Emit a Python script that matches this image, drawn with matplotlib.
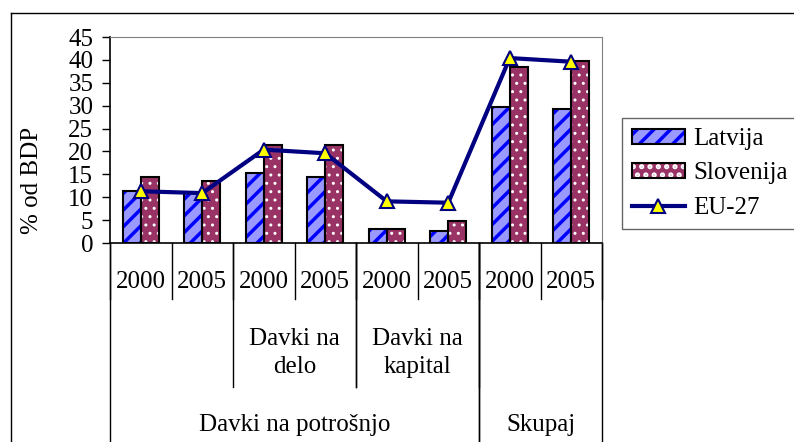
import matplotlib
matplotlib.use("Agg")
import matplotlib.pyplot as plt
from matplotlib.patches import Patch
from matplotlib.lines import Line2D
import numpy as np

plt.rcParams["font.family"] = "Liberation Serif"
plt.rcParams["hatch.linewidth"] = 2.5

years = ["2000", "2005", "2000", "2005", "2000", "2005", "2000", "2005"]
mid_groups = [("", 0, 1), ("Davki na\ndelo", 2, 3), ("Davki na\nkapital", 4, 5), ("", 6, 7)]
top_groups = [("Davki na potrošnjo", 0, 5), ("Skupaj", 6, 7)]

latvija = [11.4, 10.9, 15.4, 14.5, 3.1, 2.6, 29.8, 29.3]
slovenija = [14.5, 13.5, 21.4, 21.4, 3.0, 4.9, 38.5, 39.8]
eu27 = [11.3, 10.9, 20.4, 19.6, 9.1, 8.8, 40.4, 39.6]

W, H = 794, 442
fig = plt.figure(figsize=(W / 100, H / 100), dpi=100)
ax = fig.add_axes([110 / W, 1 - 243 / H, 492 / W, 206 / H])

x = np.arange(len(years))
bw = 0.29
fs = 18


def thin_dots(artists):
    # smaller white dots for the Slovenija texture
    for a in artists:
        if hasattr(a, "set_hatch_linewidth"):
            a.set_hatch_linewidth(1.0)


# bars: hatched fill first, black outline on top
ax.bar(x - bw / 2, latvija, bw, color="#9999FF", edgecolor="#0000FF", hatch="//", linewidth=0, zorder=2)
ax.bar(x - bw / 2, latvija, bw, fill=False, edgecolor="black", linewidth=1.5, zorder=3)
slo = ax.bar(x + bw / 2, slovenija, bw, color="#993366", edgecolor="white", hatch="..", linewidth=0, zorder=2)
thin_dots(slo)
ax.bar(x + bw / 2, slovenija, bw, fill=False, edgecolor="black", linewidth=1.5, zorder=3)
ax.plot(x, eu27, color="#000080", linewidth=3, marker="^", markersize=10,
        markerfacecolor="#FFFF00", markeredgecolor="#000080", markeredgewidth=1.5, zorder=4)

ax.set_xlim(-0.5, 7.5)
ax.set_ylim(0, 45)
ax.set_yticks(range(0, 46, 5))
ax.tick_params(axis="y", direction="out", length=6, width=1, pad=6, labelsize=fs)
ax.set_xticks([])
for s in ["top", "right"]:
    ax.spines[s].set_color("#808080")
for s in ["left", "bottom"]:
    ax.spines[s].set_color("black")
    ax.spines[s].set_linewidth(1.2)

# multi-level category axis
tr = ax.get_xaxis_transform()
y_year, y_mid, y_bot = -0.272, -0.699, -1.05
for i in range(len(years) + 1):
    ax.plot([i - 0.5, i - 0.5], [0, y_year], color="black", lw=1, transform=tr, clip_on=False)
for i, yr in enumerate(years):
    ax.text(i, -0.189, yr, ha="center", va="center", fontsize=fs, transform=tr)
for label, a, b in mid_groups:
    if label:
        ax.text((a + b) / 2, -0.534, label, ha="center", va="center", fontsize=fs,
                linespacing=1.4, transform=tr)
        for edge in [a - 0.5, b + 0.5]:
            ax.plot([edge, edge], [0, y_mid], color="black", lw=1, transform=tr, clip_on=False)
for label, a, b in top_groups:
    ax.text((a + b) / 2, -0.883, label, ha="center", va="center", fontsize=fs, transform=tr)
    for edge in [a - 0.5, b + 0.5]:
        ax.plot([edge, edge], [0, y_bot], color="black", lw=1, transform=tr, clip_on=False)

fig.text(32 / W, 1 - 180 / H, "% od BDP", rotation=90, ha="center", va="center", fontsize=fs)

# legend
h_lat = (Patch(facecolor="#9999FF", edgecolor="#0000FF", hatch="//", linewidth=0),
         Patch(fill=False, edgecolor="black", linewidth=1.5))
slo_patch = Patch(facecolor="#993366", edgecolor="white", hatch="..", linewidth=0)
thin_dots([slo_patch])
h_slo = (slo_patch, Patch(fill=False, edgecolor="black", linewidth=1.5))
h_eu = Line2D([], [], color="#000080", linewidth=3, marker="^", markersize=10,
              markerfacecolor="#FFFF00", markeredgecolor="#000080", markeredgewidth=1.5)
leg = fig.legend([h_lat, h_slo, h_eu], ["Latvija", "Slovenija", "EU-27"],
                 loc="upper left", bbox_to_anchor=(622 / W, 1 - 118 / H), fontsize=fs,
                 frameon=True, fancybox=False, borderpad=0.4, labelspacing=0.5,
                 handlelength=2.1, handleheight=0.55, handletextpad=0.35, borderaxespad=0)
leg.get_frame().set_edgecolor("#404040")
leg.get_frame().set_linewidth(1.0)

# outer chart border (only top and left fall inside the image)
fig.add_artist(Line2D([11 / W, 1.0], [1 - 13 / H, 1 - 13 / H], color="black", lw=1, transform=fig.transFigure))
fig.add_artist(Line2D([11 / W, 11 / W], [1 - 13 / H, 0], color="black", lw=1, transform=fig.transFigure))

fig.savefig("out.png", dpi=100)
